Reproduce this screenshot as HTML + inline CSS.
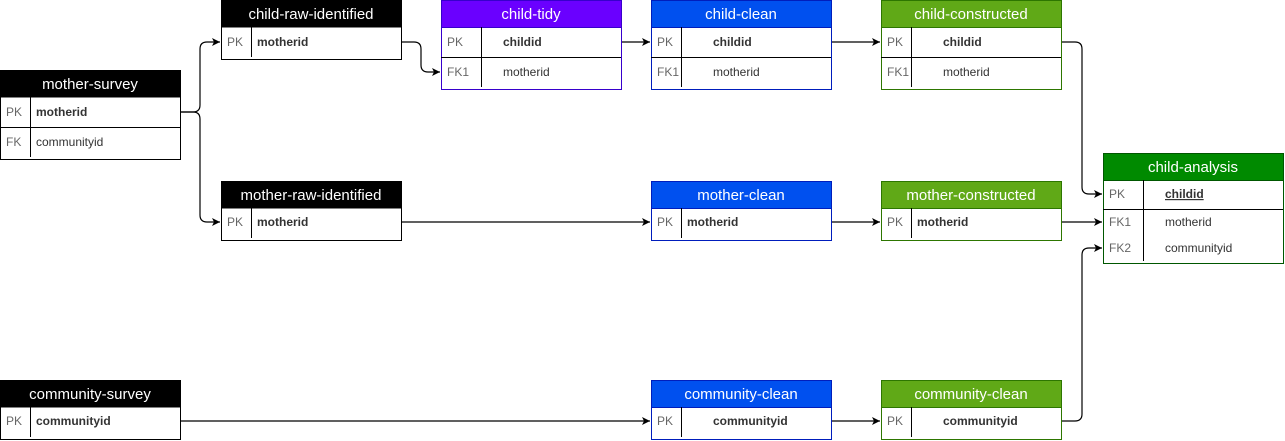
<!DOCTYPE html>
<html><head><meta charset="utf-8"><style>
html,body{margin:0;padding:0;background:#fff;}
svg{display:block;font-family:"Liberation Sans",Arial,sans-serif;}
.h{fill:#fff;font-size:15px;text-anchor:middle;}
.k{fill:#666;font-size:12px;}
.v{fill:#333;font-size:12px;}
.b{font-weight:bold;}
.c{fill:none;stroke:#000;stroke-width:1.2;}
</style></head><body>
<svg width="1285" height="441" viewBox="0 0 1285 441" xmlns="http://www.w3.org/2000/svg">
<defs><marker id="a" markerWidth="10" markerHeight="10" refX="9" refY="5" orient="auto" markerUnits="userSpaceOnUse"><path d="M1,1 L9,5 L1,9 L3,5 Z" fill="#000"/></marker></defs>

<!-- connectors -->
<path class="c" marker-end="url(#a)" d="M180,112 H193 Q200,112 200,105 V49 Q200,42 207,42 H220"/>
<path class="c" marker-end="url(#a)" d="M180,112 H193 Q200,112 200,119 V215 Q200,222 207,222 H220"/>
<path class="c" marker-end="url(#a)" d="M401,42 H414 Q421,42 421,49 V65 Q421,72 428,72 H440"/>
<path class="c" marker-end="url(#a)" d="M621,42 H650"/>
<path class="c" marker-end="url(#a)" d="M831,42 H880"/>
<path class="c" marker-end="url(#a)" d="M1061,42 H1075 Q1082,42 1082,49 V187 Q1082,194 1089,194 H1102"/>
<path class="c" marker-end="url(#a)" d="M401,222 H650"/>
<path class="c" marker-end="url(#a)" d="M831,222 H880"/>
<path class="c" marker-end="url(#a)" d="M1061,222 H1102"/>
<path class="c" marker-end="url(#a)" d="M180,421 H650"/>
<path class="c" marker-end="url(#a)" d="M831,421 H880"/>
<path class="c" marker-end="url(#a)" d="M1061,421 H1075 Q1082,421 1082,414 V255 Q1082,248 1089,248 H1102"/>

<!-- mother-survey -->
<rect x="0.5" y="70.5" width="180" height="89" fill="#fff" stroke="#000"/>
<rect x="0.5" y="70.5" width="180" height="27" fill="#000"/>
<text class="h" x="90" y="89">mother-survey</text>
<line x1="0" y1="127.5" x2="180" y2="127.5" stroke="#000"/>
<line x1="30.5" y1="97" x2="30.5" y2="157" stroke="#000"/>
<text class="k" x="6" y="116">PK</text><text class="v b" x="36" y="116">motherid</text>
<text class="k" x="6" y="146">FK</text><text class="v" x="36" y="146">communityid</text>

<!-- child-raw-identified -->
<rect x="221.5" y="0.5" width="180" height="59" fill="#fff" stroke="#000"/>
<rect x="221.5" y="0.5" width="180" height="27" fill="#000"/>
<text class="h" x="311" y="19">child-raw-identified</text>
<line x1="251.5" y1="27" x2="251.5" y2="57" stroke="#000"/>
<text class="k" x="227" y="46">PK</text><text class="v b" x="257" y="46">motherid</text>

<!-- child-tidy -->
<rect x="441.5" y="0.5" width="180" height="89" fill="#fff" stroke="#3700cc"/>
<rect x="441.5" y="0.5" width="180" height="27" fill="#6a00ff" stroke="#3700cc"/>
<text class="h" x="531" y="19">child-tidy</text>
<line x1="441" y1="57.5" x2="621" y2="57.5" stroke="#000"/>
<line x1="481.5" y1="27" x2="481.5" y2="87" stroke="#000"/>
<text class="k" x="447" y="46">PK</text><text class="v b" x="503" y="46">childid</text>
<text class="k" x="447" y="76">FK1</text><text class="v" x="503" y="76">motherid</text>

<!-- child-clean -->
<rect x="651.5" y="0.5" width="180" height="89" fill="#fff" stroke="#001dbc"/>
<rect x="651.5" y="0.5" width="180" height="27" fill="#0050ef" stroke="#001dbc"/>
<text class="h" x="741" y="19">child-clean</text>
<line x1="651" y1="57.5" x2="831" y2="57.5" stroke="#000"/>
<line x1="681.5" y1="27" x2="681.5" y2="87" stroke="#000"/>
<text class="k" x="657" y="46">PK</text><text class="v b" x="713" y="46">childid</text>
<text class="k" x="657" y="76">FK1</text><text class="v" x="713" y="76">motherid</text>

<!-- child-constructed -->
<rect x="881.5" y="0.5" width="180" height="89" fill="#fff" stroke="#2d7600"/>
<rect x="881.5" y="0.5" width="180" height="27" fill="#60a917" stroke="#2d7600"/>
<text class="h" x="971" y="19">child-constructed</text>
<line x1="881" y1="57.5" x2="1061" y2="57.5" stroke="#000"/>
<line x1="911.5" y1="27" x2="911.5" y2="87" stroke="#000"/>
<text class="k" x="887" y="46">PK</text><text class="v b" x="943" y="46">childid</text>
<text class="k" x="887" y="76">FK1</text><text class="v" x="943" y="76">motherid</text>

<!-- child-analysis -->
<rect x="1103.5" y="153.5" width="180" height="110" fill="#fff" stroke="#005700"/>
<rect x="1103.5" y="153.5" width="180" height="27" fill="#008a00" stroke="#005700"/>
<text class="h" x="1193" y="172">child-analysis</text>
<line x1="1103" y1="209.5" x2="1283" y2="209.5" stroke="#000"/>
<line x1="1143.5" y1="180" x2="1143.5" y2="261" stroke="#000"/>
<text class="k" x="1109" y="198">PK</text><text class="v b" x="1165" y="198" text-decoration="underline">childid</text>
<text class="k" x="1109" y="226">FK1</text><text class="v" x="1165" y="226">motherid</text>
<text class="k" x="1109" y="252">FK2</text><text class="v" x="1165" y="252">communityid</text>

<!-- mother-raw-identified -->
<rect x="221.5" y="181.5" width="180" height="59" fill="#fff" stroke="#000"/>
<rect x="221.5" y="181.5" width="180" height="27" fill="#000"/>
<text class="h" x="311" y="200">mother-raw-identified</text>
<line x1="251.5" y1="208" x2="251.5" y2="238" stroke="#000"/>
<text class="k" x="227" y="226">PK</text><text class="v b" x="257" y="226">motherid</text>

<!-- mother-clean -->
<rect x="651.5" y="181.5" width="180" height="59" fill="#fff" stroke="#001dbc"/>
<rect x="651.5" y="181.5" width="180" height="27" fill="#0050ef" stroke="#001dbc"/>
<text class="h" x="741" y="200">mother-clean</text>
<line x1="681.5" y1="208" x2="681.5" y2="238" stroke="#000"/>
<text class="k" x="657" y="226">PK</text><text class="v b" x="687" y="226">motherid</text>

<!-- mother-constructed -->
<rect x="881.5" y="181.5" width="180" height="59" fill="#fff" stroke="#2d7600"/>
<rect x="881.5" y="181.5" width="180" height="27" fill="#60a917" stroke="#2d7600"/>
<text class="h" x="971" y="200">mother-constructed</text>
<line x1="911.5" y1="208" x2="911.5" y2="238" stroke="#000"/>
<text class="k" x="887" y="226">PK</text><text class="v b" x="917" y="226">motherid</text>

<!-- community-survey -->
<rect x="0.5" y="380.5" width="180" height="59" fill="#fff" stroke="#000"/>
<rect x="0.5" y="380.5" width="180" height="27" fill="#000"/>
<text class="h" x="90" y="399">community-survey</text>
<line x1="30.5" y1="407" x2="30.5" y2="437" stroke="#000"/>
<text class="k" x="6" y="425">PK</text><text class="v b" x="36" y="425">communityid</text>

<!-- community-clean blue -->
<rect x="651.5" y="380.5" width="180" height="59" fill="#fff" stroke="#001dbc"/>
<rect x="651.5" y="380.5" width="180" height="27" fill="#0050ef" stroke="#001dbc"/>
<text class="h" x="741" y="399">community-clean</text>
<line x1="681.5" y1="407" x2="681.5" y2="437" stroke="#000"/>
<text class="k" x="657" y="425">PK</text><text class="v b" x="713" y="425">communityid</text>

<!-- community-clean green -->
<rect x="881.5" y="380.5" width="180" height="59" fill="#fff" stroke="#2d7600"/>
<rect x="881.5" y="380.5" width="180" height="27" fill="#60a917" stroke="#2d7600"/>
<text class="h" x="971" y="399">community-clean</text>
<line x1="911.5" y1="407" x2="911.5" y2="437" stroke="#000"/>
<text class="k" x="887" y="425">PK</text><text class="v b" x="943" y="425">communityid</text>
</svg>
</body></html>
